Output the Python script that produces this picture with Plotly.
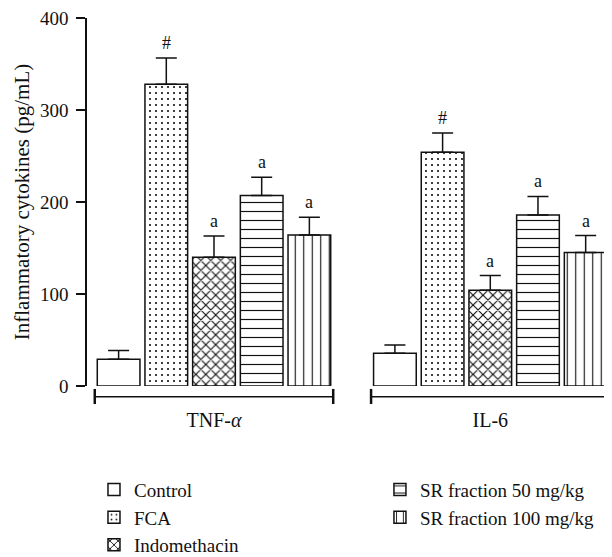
import plotly.graph_objects as go

# ---------------- data ----------------
categories = ["TNF-α", "IL-6"]
category_labels = ["TNF-<i>α</i>", "IL-6"]

series_names = ["Control", "FCA", "Indomethacin", "SR fraction 50 mg/kg", "SR fraction 100 mg/kg"]
control = [29, 35.5]
fca = [328, 254]
indomethacin = [140, 104]
sr50 = [207, 186]
sr100 = [164, 145]

control_err = [9.5, 9]
fca_err = [28.5, 21]
indomethacin_err = [23, 16]
sr50_err = [20, 20]
sr100_err = [19.5, 18.5]

control_sig = ["", ""]
fca_sig = ["#", "#"]
indomethacin_sig = ["a", "a"]
sr50_sig = ["a", "a"]
sr100_sig = ["a", "a"]

y_ticks = [0, 100, 200, 300, 400]

# ---------------- style ----------------
FONT = "Liberation Serif"
BLACK = "#111111"
BARGAP = 0.137
BARGROUPGAP = 0.105

values = [control, fca, indomethacin, sr50, sr100]
errors = [control_err, fca_err, indomethacin_err, sr50_err, sr100_err]
sigs = [control_sig, fca_sig, indomethacin_sig, sr50_sig, sr100_sig]
patterns = [
    dict(shape=""),
    dict(shape=".", size=6, solidity=0.1),
    dict(shape="x", size=7, solidity=0.3),
    dict(shape="-", size=9, solidity=0.13),
    dict(shape="|", size=8.5, solidity=0.13),
]
legends = ["legend", "legend", "legend", "legend2", "legend2"]

fig = go.Figure()
for name, v, e, pat, lg in zip(series_names, values, errors, patterns, legends):
    p = dict(pat)
    p.update(fgcolor=BLACK, bgcolor="white", fillmode="replace")
    fig.add_trace(go.Bar(
        name=name, x=categories, y=v,
        marker=dict(color="white", line=dict(color=BLACK, width=1.5), pattern=p),
        error_y=dict(type="data", array=e, arrayminus=[0] * len(e), symmetric=False,
                     color=BLACK, thickness=1.5, width=10.5),
        legend=lg,
    ))

# significance labels above error bars
n = len(series_names)
group_w = 1 - BARGAP
slot = group_w / n
annotations = []
for i, (v, e, s) in enumerate(zip(values, errors, sigs)):
    for ci in range(len(categories)):
        if s[ci]:
            annotations.append(dict(
                x=ci - group_w / 2 + slot * (i + 0.5), y=v[ci] + e[ci],
                xref="x", yref="y", text=s[ci], showarrow=False,
                yanchor="middle", yshift=15,
                font=dict(family=FONT, size=18, color=BLACK),
            ))

# group brackets under each category
shapes = []
for ci in range(len(categories)):
    x0 = ci - group_w / 2
    x1 = ci + group_w / 2
    shapes.append(dict(type="line", xref="x", yref="paper", x0=x0, x1=x1, y0=-0.029, y1=-0.029,
                       line=dict(color=BLACK, width=1.5)))
    for xx in (x0, x1):
        shapes.append(dict(type="line", xref="x", yref="paper", x0=xx, x1=xx, y0=-0.008, y1=-0.049,
                           line=dict(color=BLACK, width=2.5)))

legend_font = dict(family=FONT, size=19, color=BLACK)
fig.update_layout(
    width=604, height=549,
    margin=dict(l=79, r=0, t=10, b=171, autoexpand=False),
    paper_bgcolor="white", plot_bgcolor="white",
    barmode="group", bargap=BARGAP, bargroupgap=BARGROUPGAP,
    font=dict(family=FONT, color=BLACK, size=19),
    annotations=annotations, shapes=shapes,
    legend=dict(x=0.0133, y=-0.2299, xanchor="left", yanchor="top",
                font=legend_font, bgcolor="rgba(0,0,0,0)", traceorder="normal"),
    legend2=dict(x=0.558, y=-0.2299, xanchor="left", yanchor="top",
                 font=legend_font, bgcolor="rgba(0,0,0,0)", traceorder="normal"),
    showlegend=True,
)
fig.update_xaxes(
    range=[-0.4596, 1.4405], showline=False, showgrid=False, zeroline=False,
    ticks="", tickmode="array", tickvals=categories, ticktext=category_labels,
    ticklabelstandoff=20, tickfont=dict(family=FONT, size=20, color=BLACK),
)
fig.update_yaxes(
    range=[0, 400], tickvals=y_ticks, showline=True, linecolor=BLACK, linewidth=1.5,
    ticks="outside", ticklen=9, tickwidth=1.5, tickcolor=BLACK,
    showgrid=False, zeroline=False, ticklabelstandoff=4, ticklabeloverflow="allow",
    tickfont=dict(family=FONT, size=19, color=BLACK),
    title=dict(text="Inflammatory cytokines (pg/mL)", standoff=5,
               font=dict(family=FONT, size=21, color=BLACK)),
)

fig.write_html("out.html")
